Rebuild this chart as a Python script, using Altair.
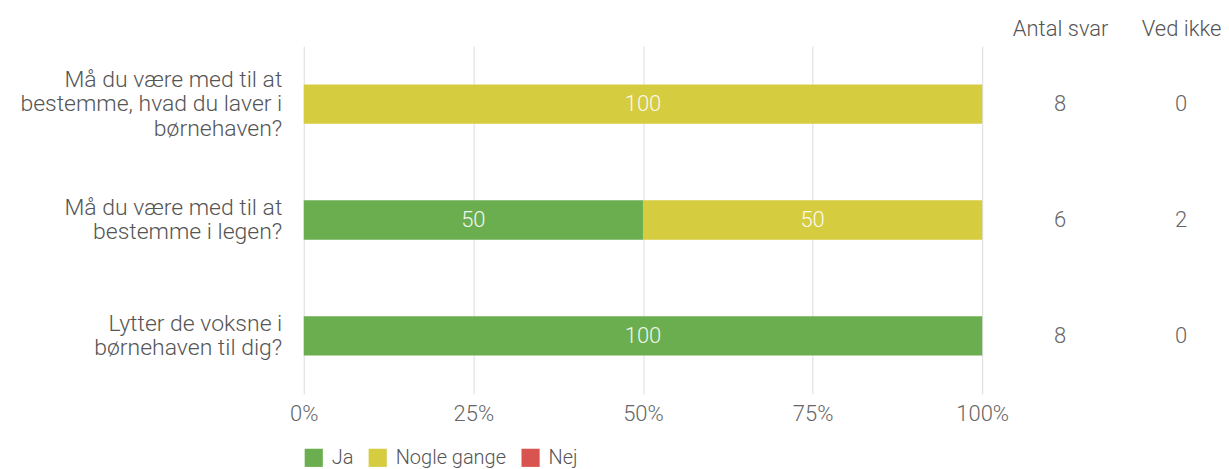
import altair as alt
import pandas as pd

questions = [
    "Må du være med til at|bestemme, hvad du laver i|børnehaven?",
    "Må du være med til at|bestemme i legen?",
    "Lytter de voksne i|børnehaven til dig?",
]
categories = ["Ja", "Nogle gange", "Nej"]
ja = [0, 50, 100]
nogle_gange = [100, 50, 0]
nej = [0, 0, 0]
antal_svar = [8, 6, 8]
ved_ikke = [0, 2, 0]
colors = ["#6aae4f", "#d5cc40", "#d9534f"]
x_ticks = [0, 25, 50, 75, 100]
table_cols = ["Antal svar", "Ved ikke"]

rows = []
for i, q in enumerate(questions):
    for k, (cat, vals) in enumerate(zip(categories, [ja, nogle_gange, nej])):
        rows.append({"question": q, "category": cat, "value": vals[i], "order": k})
df = pd.DataFrame(rows)

trows = []
for i, q in enumerate(questions):
    trows.append({"question": q, "col": table_cols[0], "v": antal_svar[i]})
    trows.append({"question": q, "col": table_cols[1], "v": ved_ikke[i]})
tdf = pd.DataFrame(trows)

FONT = "Roboto"
FW = 300
H = 348
LH = 24.5

yscale = alt.Scale(domain=questions, paddingInner=0.66, paddingOuter=0.33)

base = alt.Chart(df).transform_stack(
    stack="value", as_=["x0", "x1"], groupby=["question"],
    sort=[alt.SortField("order", order="ascending")],
)

bars = base.mark_bar().encode(
    x=alt.X("x0:Q", scale=alt.Scale(domain=[0, 100], nice=False),
            axis=alt.Axis(values=x_ticks, labelExpr="datum.value + '%'", title=None,
                          grid=True, gridColor="#dcdcdc", domain=False, ticks=False,
                          labelFont=FONT, labelFontSize=22, labelFontWeight=FW,
                          labelColor="#666666", labelPadding=10, labelFlush=False)),
    x2="x1:Q",
    y=alt.Y("question:N", scale=yscale, sort=questions,
            axis=alt.Axis(title=None, labelExpr="split(datum.label, '|')",
                          labelFont=FONT, labelFontSize=23, labelFontWeight=FW,
                          labelColor="#555555", labelLineHeight=LH, labelPadding=22,
                          labelBaseline="middle",
                          labelOffset={"condition": {"test": "length(split(datum.value, '|')) > 2",
                                                     "value": -LH},
                                       "value": -LH / 2},
                          ticks=False, domain=False, labelLimit=400)),
    color=alt.Color("category:N", scale=alt.Scale(domain=categories, range=colors),
                    legend=alt.Legend(title=None, orient="none", legendX=0, legendY=402,
                                      direction="horizontal", symbolType="square",
                                      symbolSize=330, symbolStrokeWidth=0,
                                      labelFont=FONT, labelFontSize=20, labelFontWeight=FW,
                                      labelColor="#555555", columnPadding=14, labelOffset=8)),
    order=alt.Order("order:Q"),
)

texts = base.transform_filter("datum.value > 0").transform_calculate(
    mid="(datum.x0 + datum.x1) / 2"
).mark_text(font=FONT, fontSize=22, fontWeight=FW, color="white", opacity=0.9).encode(
    x="mid:Q",
    y=alt.Y("question:N", scale=yscale, sort=questions),
    text="value:Q",
)

left = alt.layer(bars, texts).properties(width=679, height=H)

right = alt.Chart(tdf).mark_text(font=FONT, fontSize=22, fontWeight=FW, color="#666666").encode(
    x=alt.X("col:N", sort=table_cols, scale=alt.Scale(type="point", padding=0),
            axis=alt.Axis(orient="top", title=None, domain=False, ticks=False,
                          labelFont=FONT, labelFontSize=22, labelFontWeight=FW,
                          labelColor="#555555", labelPadding=6, labelAngle=0)),
    y=alt.Y("question:N", scale=yscale, sort=questions, axis=None),
    text="v:Q",
).properties(width=121, height=H)

chart = alt.hconcat(left, right, spacing=78, bounds="flush").resolve_scale(
    y="shared"
).configure_view(stroke=None).properties(
    padding={"left": 11, "top": 9, "right": 0, "bottom": 0}
)

chart.save("out.html", embed_options={"renderer": "svg", "actions": False})
